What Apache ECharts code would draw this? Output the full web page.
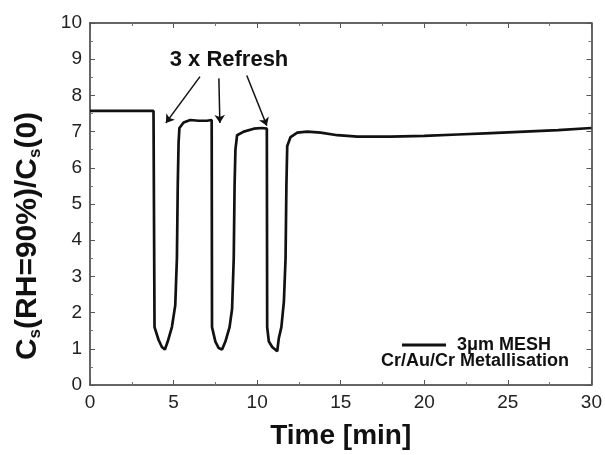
<!DOCTYPE html>
<html>
<head>
<meta charset="utf-8">
<script src="https://cdn.jsdelivr.net/npm/echarts@6/dist/echarts.min.js"></script>
<style>
  html, body { margin: 0; padding: 0; background: #fff; }
  #chart { width: 605px; height: 455px; }
</style>
</head>
<body>
<div id="chart"></div>
<script>
  // time [min] and normalised capacitance
  const timeMin = [0, 3.8, 3.84, 3.86, 4.1, 4.3, 4.48, 4.65, 4.9, 5.1, 5.2, 5.25, 5.3, 5.35, 5.6, 6.0, 6.5, 7.0, 7.28,
    7.3, 7.5, 7.7, 7.9, 8.1, 8.35, 8.5, 8.6, 8.65, 8.7, 8.8, 9.2, 9.8, 10.3, 10.58,
    10.6, 10.7, 10.9, 11.2, 11.3, 11.45, 11.6, 11.7, 11.75, 11.8, 12.0, 12.4, 13.0, 13.8, 14.8, 16.0, 18.0, 20.0, 22.0, 24.0, 26.0, 28.0, 30.0];
  const csRatio = [7.57, 7.57, 7.62, 1.6, 1.25, 1.05, 0.98, 1.2, 1.6, 2.2, 3.5, 5.5, 6.7, 7.1, 7.25, 7.32, 7.3, 7.3, 7.32,
    1.6, 1.2, 1.02, 0.98, 1.2, 1.6, 2.1, 3.5, 5.5, 6.5, 6.9, 7.0, 7.08, 7.1, 7.08,
    1.6, 1.2, 1.05, 0.93, 1.3, 1.6, 2.3, 3.5, 5.5, 6.6, 6.85, 6.97, 7.0, 6.97, 6.9, 6.86, 6.86, 6.88, 6.92, 6.96, 7.0, 7.04, 7.1];

  // "3 x Refresh" arrows: tail and head in data coords
  const arrowFrom = [[6.58, 8.52], [7.71, 8.47], [9.38, 8.55]];
  const arrowTo = [[4.54, 7.24], [7.77, 7.24], [10.58, 7.16]];

  const seriesName = '3\u03bcm MESH';
  const fontFam = '"Liberation Sans", Arial, sans-serif';

  const chart = echarts.init(document.getElementById('chart'));

  const baseAxis = {
    min: 0,
    axisLine: { show: true, onZero: false, lineStyle: { color: '#333', width: 1.5 } },
    axisTick: { show: true, inside: true, length: 5, lineStyle: { color: '#555', width: 1 } },
    minorTick: { show: true, splitNumber: 2, length: 3, lineStyle: { color: '#777', width: 1 } },
    splitLine: { show: false },
    minorSplitLine: { show: false }
  };

  const option = {
    animation: false,
    backgroundColor: '#fff',
    grid: { left: 90, right: 13, top: 23, bottom: 66 },
    xAxis: [
      Object.assign({}, baseAxis, {
        type: 'value', max: 30, interval: 5, position: 'bottom',
        name: 'Time [min]', nameLocation: 'middle', nameGap: 37,
        nameTextStyle: { fontFamily: fontFam, fontSize: 28, fontWeight: 'bold', color: '#111' },
        axisLabel: { fontFamily: fontFam, fontSize: 19, color: '#222', margin: 8 }
      }),
      Object.assign({}, baseAxis, {
        type: 'value', max: 30, interval: 5, position: 'top',
        axisLabel: { show: false }
      })
    ],
    yAxis: [
      Object.assign({}, baseAxis, {
        type: 'value', max: 10, interval: 1, position: 'left',
        axisLabel: { fontFamily: fontFam, fontSize: 19, color: '#222', margin: 8 }
      }),
      Object.assign({}, baseAxis, {
        type: 'value', max: 10, interval: 1, position: 'right',
        axisLabel: { show: false }
      })
    ],
    legend: {
      left: 397, top: 331,
      itemWidth: 44, itemHeight: 18, itemGap: 0,
      textStyle: { fontFamily: fontFam, fontSize: 18, fontWeight: 'bold', color: '#111', padding: [0, 0, 0, 6] },
      data: [{ name: seriesName, icon: 'path://M0,0 L44,0 L44,3 L0,3 Z', itemStyle: { color: '#111' } }]
    },
    graphic: [
      {
        type: 'text', left: 381, top: 352,
        style: { text: 'Cr/Au/Cr Metallisation', fontFamily: fontFam, fontSize: 18, fontWeight: 'bold', fill: '#111' }
      },
      {
        type: 'text', x: 229, y: 60,
        style: { text: '3 x Refresh', fontFamily: fontFam, fontSize: 22, fontWeight: 'bold', fill: '#111',
          textAlign: 'center', textVerticalAlign: 'middle' }
      },
      {
        type: 'text', x: 28, y: 236, rotation: Math.PI / 2,
        style: {
          text: '{a|C}{s|s}{a|(RH=90%)/C}{s|s}{a|(0)}',
          textAlign: 'center', textVerticalAlign: 'middle',
          rich: {
            a: { fontFamily: fontFam, fontSize: 30, fontWeight: 'bold', fill: '#111' },
            s: { fontFamily: fontFam, fontSize: 17, fontWeight: 'bold', fill: '#111', padding: [15, 0, 0, 0] }
          }
        }
      }
    ],
    series: [
      {
        name: seriesName,
        type: 'line',
        xAxisIndex: 0, yAxisIndex: 0,
        symbol: 'none',
        data: timeMin.map((t, i) => [t, csRatio[i]]),
        lineStyle: { color: '#111', width: 2.7 },
        itemStyle: { color: '#111' },
        markLine: {
          silent: true,
          symbol: ['none', 'arrow'],
          symbolSize: 8,
          label: { show: false },
          lineStyle: { color: '#111', width: 1.5, type: 'solid' },
          data: arrowFrom.map((p, i) => [{ coord: p }, { coord: arrowTo[i] }])
        }
      }
    ]
  };

  chart.setOption(option);
</script>
</body>
</html>
